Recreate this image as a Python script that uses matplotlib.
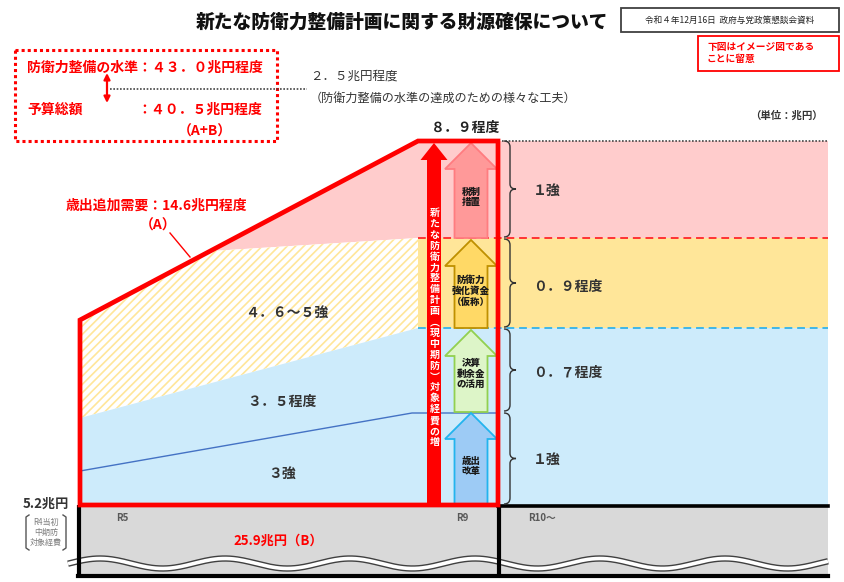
import numpy as np
import matplotlib
matplotlib.use('Agg')
import matplotlib.pyplot as plt
from matplotlib.patches import Polygon, Rectangle
from matplotlib.path import Path
from matplotlib.patches import PathPatch

plt.rcParams['font.family'] = ['Noto Sans CJK JP', 'DejaVu Sans']
plt.rcParams['hatch.linewidth'] = 1.2

# chart content
title = '新たな防衛力整備計画に関する財源確保について'
source_note = '令和４年12月16日  政府与党政策懇談会資料'
image_note = '下図はイメージ図である\nことに留意'
level_text = '防衛力整備の水準：４３．０兆円程度'
budget_text = ['予算総額', '：４０．５兆円程度', '（A+B）']
gap_text = ['２．５兆円程度', '（防衛力整備の水準の達成のための様々な工夫）']
need_text = ['歳出追加需要：14.6兆円程度', '（A）']
total_r9 = '８．９程度'
unit_text = '（単位：兆円）'
source_labels = ['税制\n措置', '防衛力\n強化資金\n（仮称）', '決算\n剰余金\nの活用', '歳出\n改革']
source_amounts = ['１強', '０．９程度', '０．７程度', '１強']
left_labels = ['４．６～５強', '３．５程度', '３強']
years = ['R5', 'R9', 'R10～']
base_value = '5.2兆円'
base_note = 'R4当初\n中期防\n対象経費'
base_total = '25.9兆円（B）'
vertical_text = '新たな防衛力整備計画（現中期防）対象経費の増'

# layout (pixel space)
band_edges = [141, 238, 328, 412, 505]
band_colors = ['#FFCCCC', '#FFE699', '#CDEBFB', '#CDEBFB']
arrow_faces = ['#FF9999', '#FFD966', '#DDF5C8', '#9DCBF5']
arrow_edges = ['#FF7C80', '#BF9000', '#92D050', '#22B4EE']
x_left, x_r9, x_r9_end, x_right = 80, 418, 498, 828

fig = plt.figure(figsize=(8.44, 5.82), dpi=100)
ax = fig.add_axes([0, 0, 1, 1])
ax.set_xlim(0, 844)
ax.set_ylim(582, 0)
ax.axis('off')


def block_arrow(cx, base, tip, shaft_w, head_w, head_h, fc, ec, lw, z):
    pts = [(cx - shaft_w / 2, base), (cx - shaft_w / 2, tip + head_h),
           (cx - head_w / 2, tip + head_h), (cx, tip),
           (cx + head_w / 2, tip + head_h), (cx + shaft_w / 2, tip + head_h),
           (cx + shaft_w / 2, base)]
    ax.add_patch(Polygon(pts, closed=True, fc=fc, ec=ec, lw=lw, zorder=z))


def brace(x, y0, y1):
    ym = (y0 + y1) / 2
    v = x + 6
    verts = [(x, y0), (v, y0), (v, y0 + 6),
             (v, ym - 5), (v, ym), (x + 12, ym),
             (v, ym), (v, ym + 5),
             (v, y1 - 6), (v, y1), (x, y1)]
    codes = [Path.MOVETO, Path.CURVE3, Path.CURVE3,
             Path.LINETO, Path.CURVE3, Path.CURVE3,
             Path.CURVE3, Path.CURVE3,
             Path.LINETO, Path.CURVE3, Path.CURVE3]
    ax.add_patch(PathPatch(Path(verts, codes), fc='none', ec='#333333', lw=1.0, zorder=6))


# right-hand bands (R9 column and beyond)
for i in range(3):
    ax.add_patch(Rectangle((x_r9, band_edges[i]), x_right - x_r9,
                           (band_edges[i + 1] if i < 2 else band_edges[4]) - band_edges[i],
                           fc=band_colors[i], ec='none', zorder=1))

# left sloped areas
diag_top = (x_r9, band_edges[0])
diag_bottom = (x_left, 320)
t = (210 - x_left) / (x_r9 - x_left)
diag_mid = (210, diag_bottom[1] + t * (diag_top[1] - diag_bottom[1]))
ax.add_patch(Polygon([diag_mid, diag_top, (x_r9, band_edges[1])], fc='#FFCCCC', ec='none', zorder=1))
ax.add_patch(Polygon([diag_bottom, diag_mid, (x_r9, band_edges[1]), (x_r9, band_edges[2]), (x_left, 418)],
                     fc='white', ec='#FFE699', lw=0, hatch='////', zorder=1))
ax.add_patch(Polygon([(x_left, 418), (x_r9, band_edges[2]), (x_r9, 505), (x_left, 505)],
                     fc='#CDEBFB', ec='none', zorder=1))
ax.plot([x_left, 412, x_r9_end], [471, 413, 413], color='#4472C4', lw=1.0, zorder=2)

# band separators
ax.plot([x_r9_end + 4, x_right], [band_edges[0], band_edges[0]], color='#444444', lw=1.2, ls=(0, (1, 1)), zorder=2)
ax.plot([x_r9, x_right], [band_edges[1], band_edges[1]], color='#FF3333', lw=1.4, ls=(0, (4, 2.5)), zorder=2)
ax.plot([x_r9, x_right], [band_edges[2], band_edges[2]], color='#3FB6E8', lw=1.4, ls=(0, (4, 2.5)), zorder=2)

# source arrows
tips = [143, 240, 330, 413]
bases = [band_edges[1], band_edges[2], band_edges[3], band_edges[4]]
text_y = [197, 291, 374, 466]
for lab, tp, bs, fc, ec, ty in zip(source_labels, tips, bases, arrow_faces, arrow_edges, text_y):
    block_arrow(471, bs, tp, 33, 52, 26, fc, ec, 1.3, 3)
    ax.text(471, ty, lab, ha='center', va='center', fontsize=6.8, fontweight='heavy',
            color='#1a1a1a', linespacing=1.1, zorder=4)

# big red arrow with vertical text
block_arrow(434, 505, 143, 14, 27, 17, '#FF0000', 'none', 0, 4)
chars = vertical_text.replace('（', '︵').replace('）', '︶')
ys = np.linspace(213, 442, len(chars))
for ch, yy in zip(chars, ys):
    ax.text(434.5, yy, ch, ha='center', va='center', fontsize=7.2, fontweight='bold',
            color='white', zorder=5)

# red outline
ax.add_patch(Polygon([(x_left, 505), diag_bottom, diag_top, (x_r9_end, band_edges[0]), (x_r9_end, 505)],
                     closed=True, fc='none', ec='#FF0000', lw=3.4, joinstyle='miter', zorder=6))

# braces and amounts
amount_y = [191, 287, 373, 460]
for i, (lab, yy) in enumerate(zip(source_amounts, amount_y)):
    y0 = band_edges[i] + (1 if i else 0)
    y1 = band_edges[i + 1] - 1
    brace(504, y0, y1)
    ax.text(533, yy, lab, ha='left', va='center', fontsize=10, fontweight='bold', color='#333333', zorder=6)

# left labels
for lab, xx, yy in zip(left_labels, [287, 282, 282], [313, 402, 474]):
    ax.text(xx, yy, lab, ha='center', va='center', fontsize=10, fontweight='bold', color='#333333', zorder=6)

# bottom gray area
ax.add_patch(Rectangle((x_left, 507), x_right - x_left, 69, fc='#D9D9D9', ec='none', zorder=1))
wx = np.linspace(68, x_right, 400)
wy = 563.5 - 5 * np.cos(2 * np.pi * (wx - 100) / 125)
ax.plot(wx, wy, color='#404040', lw=4.6, zorder=2, solid_capstyle='butt')
ax.plot(wx, wy, color='white', lw=2.6, zorder=2, solid_capstyle='butt')
ax.plot([x_left - 1, x_left - 1], [505, 577], color='black', lw=3, zorder=3, solid_capstyle='butt')
ax.plot([x_r9_end + 1, x_r9_end + 1], [505, 577], color='black', lw=3, zorder=3, solid_capstyle='butt')
ax.plot([x_r9_end, x_right], [505.5, 505.5], color='black', lw=2.6, zorder=3)
ax.plot([x_left - 2, x_right], [576, 576], color='black', lw=3, zorder=3)
for lab, xx in zip(years, [122, 462, 528]):
    ax.text(xx, 518, lab, ha='left' if lab == 'R10～' else 'center', va='center',
            fontsize=7, color='#595959', fontweight='bold', zorder=4)
ax.text(278, 541, base_total, ha='center', va='center', fontsize=9.5, fontweight='bold', color='#FF0000', zorder=4)

# 5.2 label with bracket note
ax.text(46, 504, base_value, ha='center', va='center', fontsize=9.5, fontweight='bold', color='#333333')
ax.text(46, 532, base_note, ha='center', va='center', fontsize=5.8, color='#7F7F7F', linespacing=1.15)
ax.plot([29, 26, 26, 29], [515, 517, 548, 550], color='#555555', lw=1.0)
ax.plot([63, 66, 66, 63], [515, 517, 548, 550], color='#555555', lw=1.0)

# additional need annotation
ax.text(156, 206, need_text[0], ha='center', va='center', fontsize=10, fontweight='bold', color='#FF0000')
ax.text(158, 226, need_text[1], ha='center', va='center', fontsize=10, fontweight='bold', color='#FF0000')
ax.plot([170, 190], [233, 257], color='#FF0000', lw=1.0)

# headline texts
ax.text(402, 22, title, ha='center', va='center', fontsize=13.5, fontweight='heavy', color='#111111')
ax.add_patch(Rectangle((621, 8), 218, 24, fc='white', ec='#404040', lw=1.3))
ax.text(730, 20, source_note, ha='center', va='center', fontsize=6.2, color='#222222')
ax.add_patch(Rectangle((698, 36), 141, 35, fc='white', ec='#FF0000', lw=1.3))
ax.text(707, 53, image_note, ha='left', va='center', fontsize=7, fontweight='bold', color='#FF0000', linespacing=1.2)

# dotted summary box
ax.add_patch(Rectangle((15, 50), 262, 91, fc='none', ec='#FF0000', lw=2.2, ls=(0, (1, 1))))
ax.text(27, 68, level_text, ha='left', va='center', fontsize=10, fontweight='bold', color='#FF0000')
ax.text(27, 110, budget_text[0], ha='left', va='center', fontsize=10, fontweight='bold', color='#FF0000')
ax.text(262, 110, budget_text[1], ha='right', va='center', fontsize=10, fontweight='bold', color='#FF0000')
ax.text(205, 132, budget_text[2], ha='center', va='center', fontsize=10, fontweight='bold', color='#FF0000')
ax.annotate('', xy=(107, 73), xytext=(107, 103),
            arrowprops=dict(arrowstyle='<|-|>', color='#FF0000', lw=1.6, mutation_scale=9, shrinkA=0, shrinkB=0))
ax.plot([110, 307], [89, 89], color='#444444', lw=1.2, ls=(0, (1, 1)))
ax.text(310, 76, gap_text[0], ha='left', va='center', fontsize=9, color='#333333')
ax.text(310, 98, gap_text[1], ha='left', va='center', fontsize=8.7, color='#333333')
ax.text(823, 116, unit_text, ha='right', va='center', fontsize=7.5, fontweight='bold', color='#333333')
ax.text(466, 128, total_r9, ha='center', va='center', fontsize=10, fontweight='bold', color='#222222')

fig.savefig('out.png', dpi=100)
